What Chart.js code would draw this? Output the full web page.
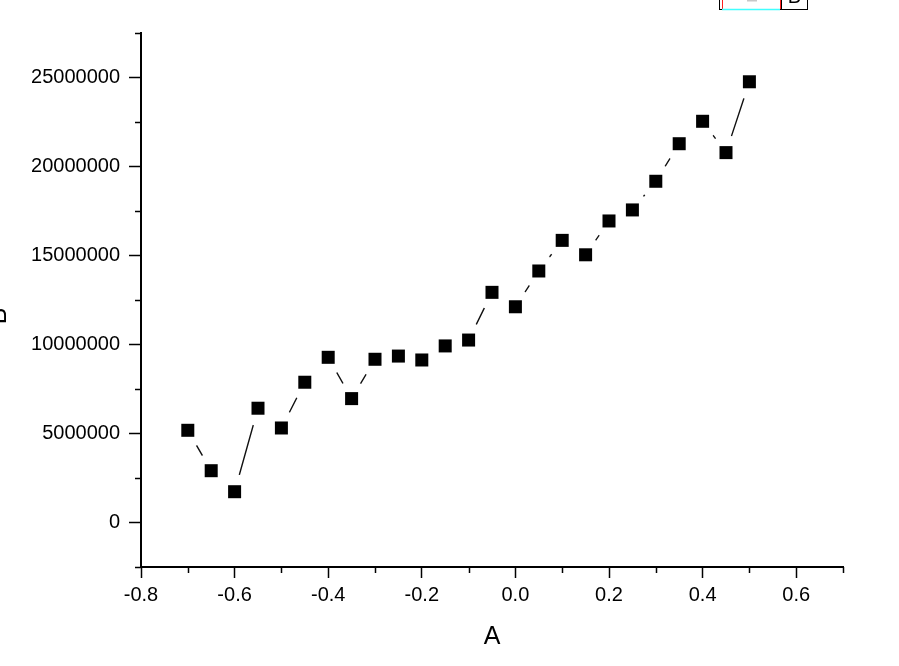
<!DOCTYPE html>
<html>
<head>
<meta charset="utf-8">
<script src="https://cdn.jsdelivr.net/npm/chart.js@4"></script>
<style>
html,body{margin:0;padding:0;background:#fff;}
canvas{display:block;}
</style>
</head>
<body>
<canvas id="c" width="899" height="666"></canvas>
<script>
// ---- data ----
const xValues = [-0.7,-0.65,-0.6,-0.55,-0.5,-0.45,-0.4,-0.35,-0.3,-0.25,-0.2,-0.15,-0.1,-0.05,0.0,0.05,0.1,0.15,0.2,0.25,0.3,0.35,0.4,0.45,0.5];
const yValues = [5180000,2910000,1730000,6420000,5310000,7880000,9280000,6960000,9170000,9350000,9130000,9920000,10250000,12930000,12120000,14130000,15850000,15040000,16940000,17560000,19170000,21280000,22540000,20780000,24760000];
const seriesName = 'B';
const xTitle = 'A';
const yTitle = 'B';
const xMajorTicks = [-0.8,-0.6,-0.4,-0.2,0.0,0.2,0.4,0.6];
const xMinorTicks = [-0.7,-0.5,-0.3,-0.1,0.1,0.3,0.5,0.7];
const yMajorTicks = [0,5000000,10000000,15000000,20000000,25000000];
const yMinorTicks = [-2500000,2500000,7500000,12500000,17500000,22500000,27500000];

const points = xValues.map((x,i)=>({x:x, y:yValues[i]}));
const FONT = "'Liberation Sans', Arial, sans-serif";

const extras = {
  id: 'extras',
  afterDraw(chart){
    const ctx = chart.ctx;
    const xs = chart.scales.x, ys = chart.scales.y;
    ctx.save();
    ctx.strokeStyle = '#000';
    ctx.lineWidth = 1.5;
    // minor ticks
    const axX = ys.right;  // y axis position
    const axY = xs.top;    // x axis position
    yMinorTicks.forEach(v=>{
      const p = Math.round(ys.getPixelForValue(v)) + 0.5;
      ctx.beginPath(); ctx.moveTo(axX - 6, p); ctx.lineTo(axX, p); ctx.stroke();
    });
    xMinorTicks.forEach(v=>{
      const p = Math.round(xs.getPixelForValue(v)) + 0.5;
      ctx.beginPath(); ctx.moveTo(p, axY); ctx.lineTo(p, axY + 6); ctx.stroke();
    });
    // y title (partially clipped at left edge)
    ctx.fillStyle = '#000';
    ctx.font = '25px ' + FONT;
    ctx.textAlign = 'center';
    ctx.textBaseline = 'middle';
    ctx.translate(-1, 316);
    ctx.rotate(-Math.PI/2);
    ctx.fillText(yTitle, 0, 0);
    ctx.restore();

    // legend fragment at the top (mostly off-canvas)
    ctx.save();
    ctx.lineWidth = 1;
    ctx.strokeStyle = '#000';
    ctx.strokeRect(719.5, -20.5, 88, 30);
    ctx.strokeRect(781.5, -20.5, 26, 30);
    ctx.strokeStyle = '#ff2020';
    ctx.beginPath(); ctx.moveTo(722.5, -20); ctx.lineTo(722.5, 9); ctx.stroke();
    ctx.beginPath(); ctx.moveTo(780.5, -20); ctx.lineTo(780.5, 9); ctx.stroke();
    ctx.strokeStyle = '#40ffff';
    ctx.lineWidth = 1.5;
    ctx.beginPath(); ctx.moveTo(722, 9.5); ctx.lineTo(780, 9.5); ctx.stroke();
    ctx.fillStyle = '#000';
    ctx.font = '20px ' + FONT;
    ctx.textAlign = 'center';
    ctx.textBaseline = 'alphabetic';
    ctx.fillText(seriesName, 794.5, 3);
    ctx.fillStyle = '#c8c8c8';
    ctx.fillRect(747, 0, 10, 1.5);
    ctx.restore();
  }
};

new Chart(document.getElementById('c'), {
  type: 'scatter',
  data: {
    datasets: [
      {
        label: seriesName,
        data: points,
        showLine: false,
        pointStyle: 'rect',
        pointRadius: 9.2,
        pointHoverRadius: 9.2,
        pointBackgroundColor: '#000',
        pointBorderWidth: 0,
        order: 0
      },
      {
        label: seriesName + ' line',
        data: points,
        showLine: true,
        borderColor: '#111',
        borderWidth: 1.4,
        pointStyle: 'circle',
        pointRadius: 17.5,
        pointHoverRadius: 17.5,
        pointBackgroundColor: '#fff',
        pointBorderWidth: 0,
        order: 1
      }
    ]
  },
  options: {
    responsive: false,
    animation: false,
    devicePixelRatio: 1,
    layout: { padding: { top: 33, right: 56, left: 0, bottom: 0 } },
    plugins: { legend: { display: false }, tooltip: { enabled: false } },
    scales: {
      x: {
        type: 'linear',
        min: -0.8, max: 0.7,
        afterFit(s){ s.height = 99; s.paddingLeft = 0; s.paddingRight = 0; },
        afterBuildTicks(s){ s.ticks = xMajorTicks.map(v=>({value:v})); },
        ticks: {
          autoSkip: false, maxRotation: 0,
          padding: 5,
          color: '#000',
          font: { family: FONT, size: 20 },
          callback: (v) => Number(v).toFixed(1)
        },
        grid: { drawOnChartArea: false, drawTicks: true, tickLength: 11, tickColor: '#000', tickWidth: 1.5, color: '#000' },
        border: { display: true, color: '#000', width: 2 },
        title: { display: true, text: xTitle, color: '#000', font: { family: FONT, size: 25 }, padding: { top: 0, bottom: 14 } }
      },
      y: {
        type: 'linear',
        min: -2500000, max: 27500000,
        afterFit(s){ s.width = 141; s.paddingTop = 0; s.paddingBottom = 0; },
        afterBuildTicks(s){ s.ticks = yMajorTicks.map(v=>({value:v})); },
        ticks: {
          autoSkip: false,
          padding: 9,
          color: '#000',
          font: { family: FONT, size: 20 },
          callback: (v) => String(v)
        },
        grid: { drawOnChartArea: false, drawTicks: true, tickLength: 12, tickColor: '#000', tickWidth: 1.5, color: '#000' },
        border: { display: true, color: '#000', width: 2 }
      }
    }
  },
  plugins: [extras]
});
</script>
</body>
</html>
